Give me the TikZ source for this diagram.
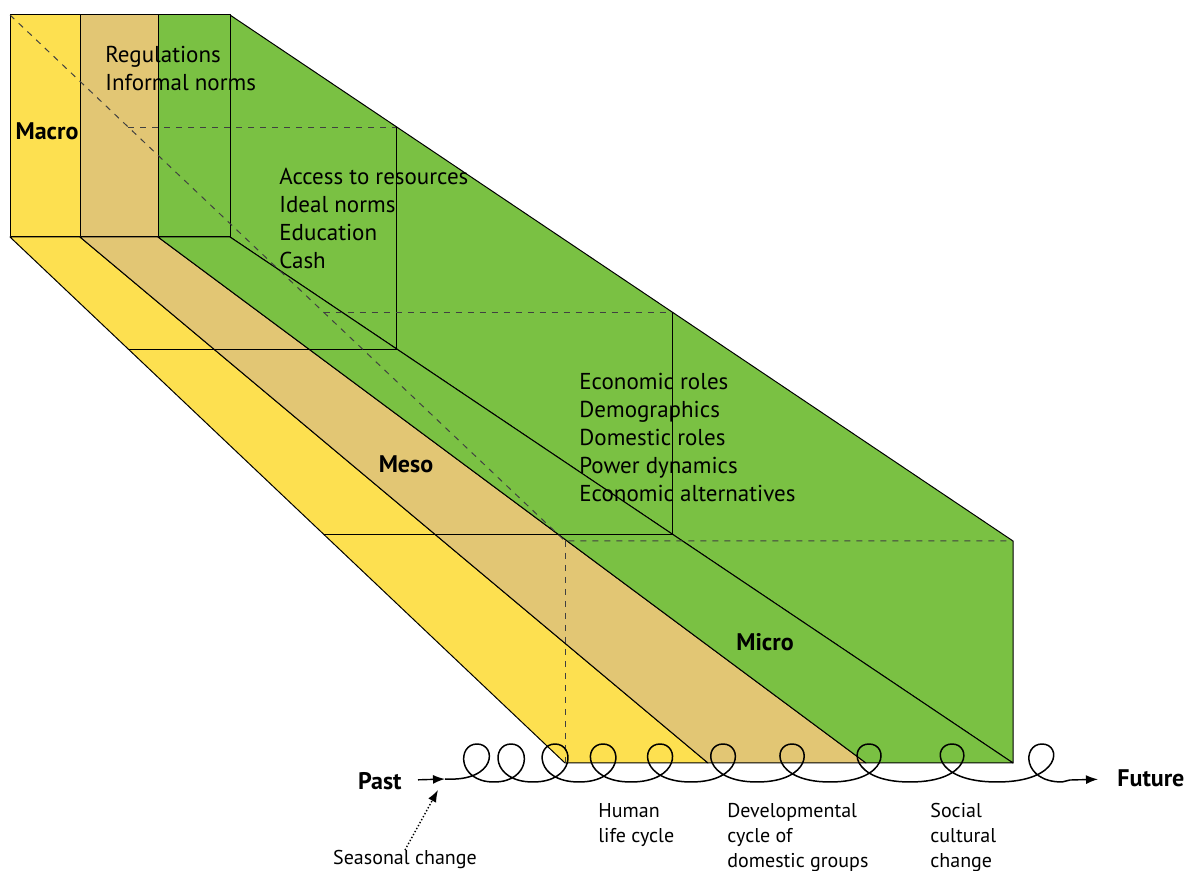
\documentclass[tikz,border=0pt]{standalone}
\usepackage{fontspec}
\setmainfont{PT Sans}
\usetikzlibrary{arrows.meta,calc}
\definecolor{layeryellow}{RGB}{253,224,80}
\definecolor{layertan}{RGB}{226,198,116}
\definecolor{layergreen}{RGB}{122,193,67}
\tikzset{
  face/.style={draw=black, line width=0.5pt, line join=round},
  hidden/.style={dashed, black!75, line width=0.5pt},
  cut/.style={black, line width=0.5pt},
  factor/.style={align=left, anchor=north west, inner sep=0pt, font=\fontsize{11.5}{14}\selectfont},
  levellabel/.style={inner sep=0pt, font=\bfseries\fontsize{12}{14}\selectfont},
  cyclelabel/.style={align=left, anchor=north west, inner sep=0pt, font=\fontsize{10}{12.5}\selectfont},
  timeline/.style={-{Latex[length=6pt,width=4.5pt]}, line width=0.7pt},
  coil/.style={line width=0.75pt, line join=round}
}
\begin{document}
\begin{tikzpicture}[x=0.5pt,y=-0.5pt]
  \useasboundingbox (0,0) rectangle (1185,871);
  % corners of the prism
  \foreach \i/\x in {0/10,1/80,2/158,3/230} {
    \coordinate (ft\i) at (\x,15);
    \coordinate (fb\i) at (\x,237);
  }
  \foreach \i/\x in {0/565,1/708,2/866,3/1013} {\coordinate (bb\i) at (\x,763);}
  \coordinate (bt0) at (565,541);
  \coordinate (bt3) at (1013,541);

  % visible faces
  \filldraw[face, fill=layergreen] (ft3) -- (bt3) -- (bb3) -- (fb3) -- cycle;
  \filldraw[face, fill=layeryellow] (fb0) -- (fb1) -- (bb1) -- (bb0) -- cycle;
  \filldraw[face, fill=layertan] (fb1) -- (fb2) -- (bb2) -- (bb1) -- cycle;
  \filldraw[face, fill=layergreen] (fb2) -- (fb3) -- (bb3) -- (bb2) -- cycle;
  \filldraw[face, fill=layeryellow] (ft0) rectangle (fb1);
  \filldraw[face, fill=layertan] (ft1) rectangle (fb2);
  \filldraw[face, fill=layergreen] (ft2) rectangle (fb3);

  % cross sections
  \foreach \t in {0.213,0.565} {
    \draw[hidden] ($(ft0)!\t!(bt0)$) -- ($(ft3)!\t!(bt3)$);
    \draw[cut] ($(ft3)!\t!(bt3)$) -- ($(fb3)!\t!(bb3)$) -- ($(fb0)!\t!(bb0)$);
  }

  % hidden edges
  \draw[hidden] (ft0) -- (bt0) -- (bt3);
  \draw[hidden] (bt0) -- (bb0);

  % levels and factors
  \node[levellabel, anchor=base] (macro) at (47,140) {Macro};
  \node[levellabel, anchor=base] (meso) at (406,473) {Meso};
  \node[levellabel, anchor=base] (micro) at (765,651) {Micro};
  \node[factor] (macrof) at (105,46) {Regulations\\Informal norms};
  \node[factor] (mesof) at (279,168) {Access to resources\\Ideal norms\\Education\\Cash};
  \node[factor] (microf) at (579,373) {Economic roles\\Demographics\\Domestic roles\\Power dynamics\\Economic alternatives};

  % time line
  \coordinate (coilstart) at (445,779);
  \coordinate (coilend) at (1070,780);
  \coordinate (seasontip) at (438,790);
  \node[levellabel, anchor=east, inner xsep=8pt] (past) at (418,781) {Past};
  \node[levellabel, anchor=west, inner xsep=9.5pt] (future) at (1098,778) {Future};
  \draw[timeline] (past) -- (coilstart);
  \draw[coil] (coilstart)
    foreach \c/\r in {477/494,511/533,555/579,603/631,660/691,723/757,792/830,869/910,952/997,1042/1062}
      { .. controls ({\c+20},782) and ({\c+20},744) .. (\c,744)
        .. controls ({\c-20},744) and ({\c-20},782) .. (\r,782) }
    -- (coilend);
  \draw[timeline] (coilend) -- (future);

  \node[cyclelabel, anchor=north] (seasonal) at (405,850) {Seasonal change};
  \draw[timeline, densely dotted] (seasonal.north) -- (seasontip);
  \node[cyclelabel] (life) at (598,803) {Human\\life cycle};
  \node[cyclelabel] (domestic) at (727,803) {Developmental\\cycle of\\domestic groups};
  \node[cyclelabel] (social) at (930,803) {Social\\cultural\\change};
\end{tikzpicture}
\end{document}
